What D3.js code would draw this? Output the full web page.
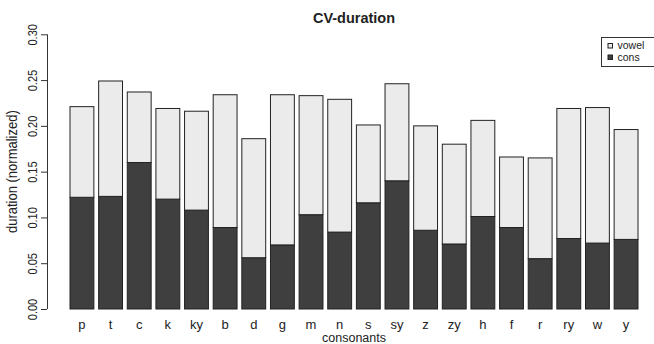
<!DOCTYPE html>
<html>
<head>
<meta charset="utf-8">
<script src="https://cdn.jsdelivr.net/npm/d3@7"></script>
<style>
  body { margin: 0; background: #fff; }
  text { font-family: "Liberation Sans", Arial, sans-serif; fill: #222; }
</style>
</head>
<body>
<div id="wrapper"></div>
<script>
// data
const consonants = ["p","t","c","k","ky","b","d","g","m","n","s","sy","z","zy","h","f","r","ry","w","y"]
const consDur  = [0.122,0.123,0.160,0.120,0.108,0.089,0.056,0.070,0.103,0.084,0.116,0.140,0.086,0.071,0.101,0.089,0.055,0.077,0.072,0.076]
const totalDur = [0.221,0.249,0.237,0.219,0.216,0.234,0.186,0.234,0.233,0.229,0.201,0.246,0.200,0.180,0.206,0.166,0.165,0.219,0.220,0.196]
const vowelDur = totalDur.map((t, i) => +(t - consDur[i]).toFixed(3))
const yTicks = [0, 0.05, 0.10, 0.15, 0.20, 0.25, 0.30]
const seriesNames = ["vowel", "cons"]

const dataset = consonants.map((c, i) => ({ name: c, cons: consDur[i], vowel: vowelDur[i] }))

const dimensions = { width: 654, height: 344 }

const svg = d3.select("#wrapper")
  .append("svg")
    .attr("width", dimensions.width)
    .attr("height", dimensions.height)

const colors = { cons: "#3f3f3f", vowel: "#ebebeb" }

const xScale = d3.scaleBand()
  .domain(consonants)
  .range([70, 638])
  .paddingInner(1 / 6)
  .paddingOuter(0)

const yScale = d3.scaleLinear()
  .domain([0, 0.30])
  .range([309, 34.3])

// stacked bars: cons at bottom, vowel on top
const stack = d3.stack().keys(["cons", "vowel"])
const layers = stack(dataset)

svg.append("g")
  .selectAll("g")
  .data(layers)
  .join("g")
    .attr("fill", d => colors[d.key])
  .selectAll("rect")
  .data(d => d)
  .join("rect")
    .attr("x", d => xScale(d.data.name))
    .attr("width", xScale.bandwidth())
    .attr("y", d => yScale(d[1]))
    .attr("height", d => yScale(d[0]) - yScale(d[1]))
    .attr("stroke", "#222")
    .attr("stroke-width", 1)

// y axis
const yAxis = svg.append("g")
  .attr("transform", "translate(47,0)")
  .call(d3.axisLeft(yScale).tickValues(yTicks).tickFormat(d3.format(".2f")).tickSize(6))
yAxis.select(".domain").attr("stroke", "#333").attr("d", `M0.5,${yScale(0)}V${yScale(0.30)}`)
yAxis.selectAll(".tick line").attr("stroke", "#333")
yAxis.selectAll(".tick text")
  .attr("font-size", 11)
  .attr("fill", "#222")
  .attr("x", null).attr("dy", null)
  .attr("text-anchor", "middle")
  .attr("transform", "translate(-10,0) scale(1.2,1) rotate(-90)")

// x labels
const xAxis = svg.append("g")
  .attr("transform", "translate(0,309)")
  .call(d3.axisBottom(xScale).tickSize(0).tickPadding(11))
xAxis.select(".domain").remove()
xAxis.selectAll(".tick text").attr("font-size", 13).attr("fill", "#222")

// titles
svg.append("text")
  .attr("x", 354).attr("y", 23)
  .attr("text-anchor", "middle")
  .attr("font-size", 14.5)
  .attr("font-weight", "bold")
  .text("CV-duration")

svg.append("text")
  .attr("x", 354).attr("y", 342)
  .attr("text-anchor", "middle")
  .attr("font-size", 12.5)
  .text("consonants")

svg.append("text")
  .attr("transform", `translate(17,${(yScale(0) + yScale(0.30)) / 2}) scale(1.15,1) rotate(-90)`)
  .attr("text-anchor", "middle")
  .attr("font-size", 13)
  .text("duration (normalized)")

// legend
const legend = svg.append("g").attr("transform", "translate(601.5,37.5)")
legend.append("rect")
  .attr("width", 60).attr("height", 29)
  .attr("fill", "#fff").attr("stroke", "#333")
legend.selectAll("rect.key")
  .data(seriesNames)
  .join("rect")
    .attr("class", "key")
    .attr("x", 6.5).attr("y", (d, i) => 6 + i * 11.5)
    .attr("width", 4.5).attr("height", 4.5)
    .attr("fill", d => colors[d])
    .attr("stroke", "#222")
legend.selectAll("text")
  .data(seriesNames)
  .join("text")
    .attr("x", 16).attr("y", (d, i) => 11.5 + i * 11.5)
    .attr("font-size", 10.5)
    .text(d => d)
</script>
</body>
</html>
